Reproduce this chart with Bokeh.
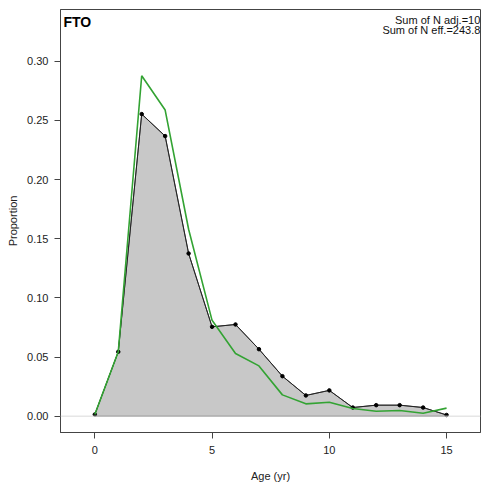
from bokeh.plotting import figure
from bokeh.models import Range1d, FixedTicker, NumeralTickFormatter, Span
from bokeh.core.properties import value
from bokeh.embed import file_html
from bokeh.resources import INLINE

ages = [0, 1, 2, 3, 4, 5, 6, 7, 8, 9, 10, 11, 12, 13, 14, 15]
observed = [0.0014, 0.0544, 0.2553, 0.2367, 0.1375, 0.0755, 0.0775, 0.0566,
            0.0338, 0.0175, 0.0218, 0.0073, 0.0093, 0.0093, 0.0073, 0.0010]
expected = [0.0014, 0.0544, 0.2877, 0.2587, 0.1580, 0.0810, 0.0530, 0.0425,
            0.0180, 0.0104, 0.0118, 0.0065, 0.0042, 0.0048, 0.0025, 0.0068]
fleet = "FTO"
info_lines = ["Sum of N adj.=10", "Sum of N eff.=243.8"]
x_ticks = [0, 5, 10, 15]
y_ticks = [0.00, 0.05, 0.10, 0.15, 0.20, 0.25, 0.30]

FONT = "Liberation Sans"
DARK = "#444444"

p = figure(width=481, height=486, output_backend="svg", toolbar_location=None,
           x_range=Range1d(-1.463, 16.447), y_range=Range1d(-0.0138, 0.3437),
           min_border_left=60, min_border_right=1, min_border_top=9, min_border_bottom=54)

p.xgrid.visible = False
p.ygrid.visible = False
p.outline_line_color = DARK
p.outline_line_width = 1
p.background_fill_color = "white"
p.border_fill_color = "white"

for ax in (p.xaxis[0], p.yaxis[0]):
    ax.axis_line_color = DARK
    ax.major_tick_line_color = DARK
    ax.major_tick_out = 6
    ax.major_tick_in = 0
    ax.minor_tick_out = 0
    ax.minor_tick_in = 0
    ax.major_label_text_font = FONT
    ax.major_label_text_font_size = "11px"
    ax.major_label_text_color = "#222222"
    ax.axis_label_text_font = FONT
    ax.axis_label_text_font_size = "11px"
    ax.axis_label_text_font_style = "normal"
    ax.axis_label_text_color = "#222222"

p.xaxis.ticker = FixedTicker(ticks=x_ticks)
p.yaxis.ticker = FixedTicker(ticks=y_ticks)
p.yaxis.formatter = NumeralTickFormatter(format="0.00")
p.xaxis.axis_label = "Age (yr)"
p.yaxis.axis_label = "Proportion"
p.xaxis.major_label_standoff = 7
p.xaxis.axis_label_standoff = 13
p.yaxis.major_label_standoff = 6
p.yaxis.axis_label_standoff = 5

p.add_layout(Span(location=0, dimension="width", line_color="#d9d9d9", line_width=1))

poly_x = ages + ages[::-1][:1] + [ages[0]]
poly_y = observed + [0, 0]
p.patch(poly_x, poly_y, fill_color="#c8c8c8", line_color="#555555", line_width=1)
p.line(ages, observed, line_color="#222222", line_width=1)
p.scatter(ages, observed, size=3.5, color="black")
p.line(ages, expected, line_color="#33a333", line_width=1.6)

p.text(x=[-1.335], y=[0.3335], text=[fleet], text_font=value(FONT),
       text_font_size="14px", text_font_style="bold", text_color="black",
       text_baseline="alphabetic", text_align="left")
p.text(x=[16.44, 16.44], y=[0.3352, 0.3265], text=info_lines, text_font=value(FONT),
       text_font_size="11px", text_color="#111111",
       text_baseline="alphabetic", text_align="right")

open("out.html", "w").write(file_html(p, INLINE))
